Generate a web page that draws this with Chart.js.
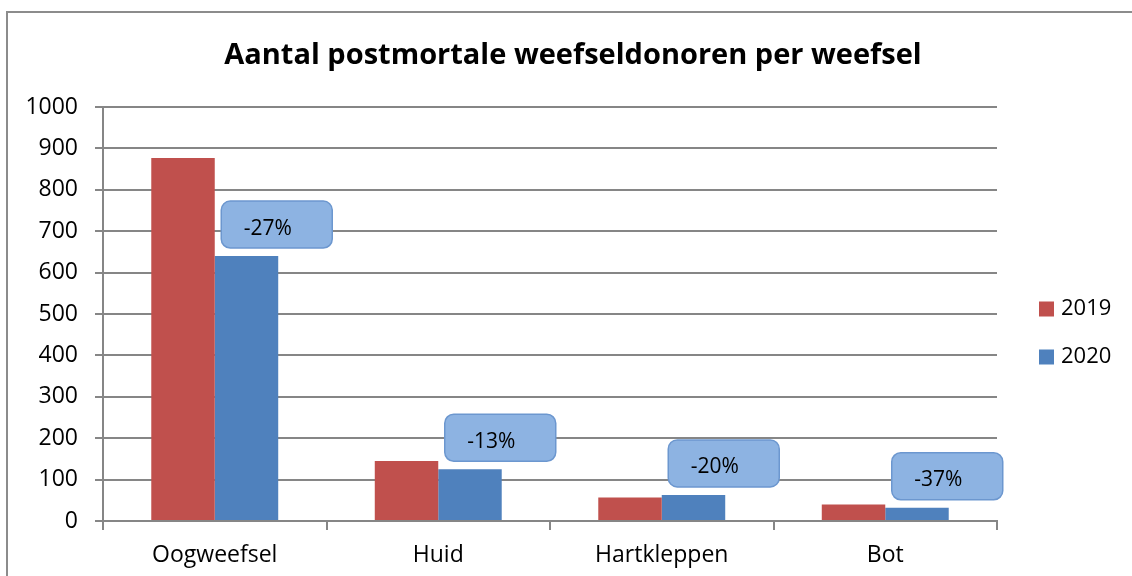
<!DOCTYPE html>
<html><head><meta charset="utf-8">
<script src="https://cdn.jsdelivr.net/npm/chart.js@4.4.1/dist/chart.umd.min.js"></script>
<style>html,body{margin:0;padding:0;background:#fff;overflow:hidden}canvas{display:block}</style>
</head><body>
<canvas id="c" width="1132" height="576"></canvas>
<script>
const chartTitle = 'Aantal postmortale weefseldonoren per weefsel';
const categories = ['Oogweefsel', 'Huid', 'Hartkleppen', 'Bot'];
const seriesNames = ['2019', '2020'];
const values2019 = [877, 145, 57, 40];
const values2020 = [640, 125, 63, 32];
const changeLabels = ['-27%', '-13%', '-20%', '-37%'];
const yMin = 0, yMax = 1000, yStep = 100;
const seriesColors = ['#C0504D', '#4F81BD'];

const FONT = "'Open Sans', 'Liberation Sans', sans-serif";
const GRID = '#868686';

const framePlugin = {
  id: 'frame',
  beforeDraw(chart) {
    const ctx = chart.ctx;
    ctx.save();
    ctx.strokeStyle = '#8C8C8C';
    ctx.lineWidth = 2;
    ctx.beginPath();
    ctx.moveTo(7, chart.height);
    ctx.lineTo(7, 12);
    ctx.lineTo(chart.width, 12);
    ctx.stroke();
    ctx.restore();
  }
};

const calloutPlugin = {
  id: 'callouts',
  afterDatasetsDraw(chart) {
    const ctx = chart.ctx;
    const xs = chart.scales.x;
    const meta = chart.getDatasetMeta(1);
    const w = 111, h = 47, r = 9;
    ctx.save();
    changeLabels.forEach((txt, i) => {
      const bar = meta.data[i];
      const cx = xs.getPixelForValue(i) + 62;
      const bottom = bar.y - 8;
      const x0 = cx - w / 2, y0 = bottom - h;
      ctx.beginPath();
      ctx.roundRect(x0, y0, w, h, r);
      ctx.fillStyle = '#8DB3E2';
      ctx.fill();
      ctx.strokeStyle = '#6C97CF';
      ctx.lineWidth = 1.5;
      ctx.stroke();
      ctx.fillStyle = '#000';
      ctx.font = '21px ' + FONT;
      ctx.textAlign = 'center';
      ctx.textBaseline = 'middle';
      ctx.fillText(txt, cx - 9, y0 + h / 2 + 4);
    });
    ctx.restore();
  }
};

const legendPlugin = {
  id: 'sideLegend',
  afterDraw(chart) {
    const ctx = chart.ctx;
    ctx.save();
    chart.data.datasets.forEach((ds, i) => {
      const y = 309 + i * 48;
      ctx.fillStyle = ds.backgroundColor;
      ctx.fillRect(1039, y - 7.5, 15, 15);
      ctx.fillStyle = '#000';
      ctx.font = '22px ' + FONT;
      ctx.textAlign = 'left';
      ctx.textBaseline = 'middle';
      ctx.fillText(ds.label, 1061, y);
    });
    ctx.restore();
  }
};

new Chart(document.getElementById('c'), {
  type: 'bar',
  data: {
    labels: categories,
    datasets: [
      { label: seriesNames[0], data: values2019, backgroundColor: seriesColors[0], borderWidth: 0 },
      { label: seriesNames[1], data: values2020, backgroundColor: seriesColors[1], borderWidth: 0 }
    ]
  },
  options: {
    responsive: false,
    animation: false,
    devicePixelRatio: 1,
    layout: { padding: { left: 14, right: 0, top: 0, bottom: 0 } },
    datasets: { bar: { categoryPercentage: 0.568, barPercentage: 1.0 } },
    plugins: {
      legend: { display: false },
      tooltip: { enabled: false },
      title: {
        display: true,
        text: chartTitle,
        color: '#000',
        font: { family: FONT, size: 29, weight: 'bold', lineHeight: 1.2 },
        padding: { top: 38, bottom: 34.2 }
      }
    },
    scales: {
      x: {
        offset: true,
        grid: { offset: true, drawOnChartArea: false, drawTicks: true, tickLength: 9, color: GRID, lineWidth: 2 },
        border: { display: true, color: GRID, width: 2 },
        ticks: { color: '#000', font: { family: FONT, size: 23 }, padding: 12, maxRotation: 0 },
        afterFit(s) { s.height = 55; }
      },
      y: {
        min: yMin, max: yMax,
        grid: { color: GRID, lineWidth: 2, tickLength: 8, tickColor: GRID },
        border: { display: true, color: GRID, width: 2 },
        ticks: { stepSize: yStep, color: '#000', font: { family: FONT, size: 23 }, padding: 17,
                 callback: v => String(v) },
        afterFit(s) { s.width = 89; }
      },
      y2: {
        position: 'right',
        grid: { display: false },
        border: { display: false },
        ticks: { display: false },
        afterFit(s) { s.width = 135; }
      }
    }
  },
  plugins: [framePlugin, calloutPlugin, legendPlugin]
});
</script>
</body></html>
